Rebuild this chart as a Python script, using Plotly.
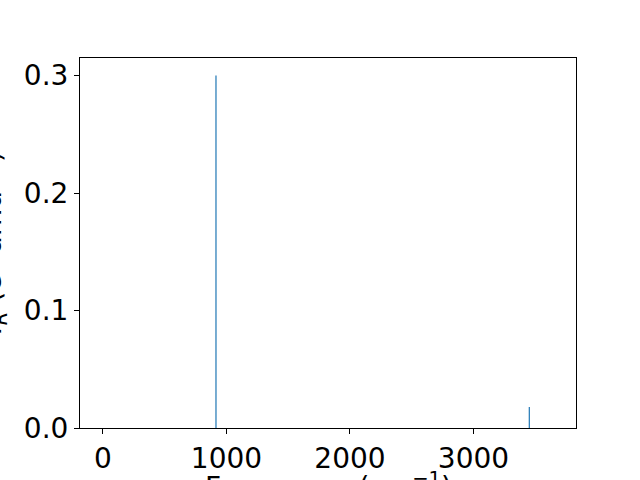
import plotly.graph_objects as go

# Data
frequencies = [915, 3452]          # cm^-1
intensities = [0.300, 0.0178]      # e^2 amu^-1
x_ticks = [0, 1000, 2000, 3000]
y_ticks = [0.0, 0.1, 0.2, 0.3]

xs, ys = [], []
for f, i in zip(frequencies, intensities):
    xs += [f, f, None]
    ys += [0, i, None]

fig = go.Figure()
fig.add_trace(go.Scatter(x=xs, y=ys, mode="lines",
                         line=dict(color="#1f77b4", width=1.2),
                         showlegend=False, hoverinfo="skip"))

W, H = 640, 480
L, R, T, B = 80, 64, 58, 52
PW, PH = W - L - R, H - T - B
fig.update_layout(
    width=W, height=H,
    margin=dict(l=L, r=R, t=T, b=B, pad=0, autoexpand=False),
    paper_bgcolor="white", plot_bgcolor="white",
    font=dict(family="DejaVu Sans", size=28, color="black"),
    showlegend=False,
)
fig.update_xaxes(range=[-186, 3830], tickvals=x_ticks, ticktext=[str(v) for v in x_ticks],
                 ticks="outside", ticklen=5, tickwidth=1, tickcolor="black",
                 showline=True, linecolor="black", linewidth=1, mirror=True,
                 showgrid=False, zeroline=False, automargin=False)
fig.update_yaxes(range=[0, 0.315], tickvals=y_ticks, ticktext=[f"{v:.1f}" for v in y_ticks],
                 ticks="outside", ticklen=5, tickwidth=1, tickcolor="black",
                 showline=True, linecolor="black", linewidth=1, mirror=True,
                 showgrid=False, zeroline=False, automargin=False)

fig.add_annotation(text="Frequency (cm<sup>−1</sup>)", xref="paper", yref="paper",
                   x=0.5, y=-(465 - (T + PH)) / PH, xanchor="center", yanchor="top",
                   showarrow=False, font=dict(size=28, color="black"))
fig.add_annotation(text="<i>I</i><sub><i>R</i></sub> (e<sup>2</sup> amu<sup>−1</sup>)",
                   xref="paper", yref="paper", textangle=-90,
                   x=-(L - 14) / PW, y=0.5, xanchor="right", yanchor="middle",
                   showarrow=False, font=dict(size=28, color="black"))

fig.write_html("out.html", config={"displayModeBar": False},
               post_script="document.body.style.margin='0';document.body.style.overflow='hidden';")
